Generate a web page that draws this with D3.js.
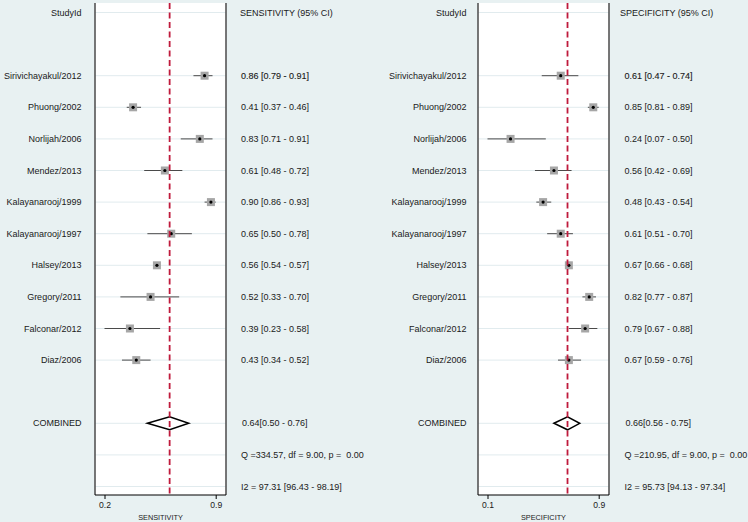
<!DOCTYPE html>
<html>
<head>
<meta charset="utf-8">
<script src="https://cdn.jsdelivr.net/npm/d3@7"></script>
<style>
  html, body { margin: 0; padding: 0; background: #e8f1f2; }
  svg { display: block; font-family: "Liberation Sans", Arial, sans-serif; }
</style>
</head>
<body>
<svg id="chart" width="748" height="522"></svg>
<script>
// ---- data ----
const studies = ["Sirivichayakul/2012","Phuong/2002","Norlijah/2006","Mendez/2013","Kalayanarooj/1999","Kalayanarooj/1997","Halsey/2013","Gregory/2011","Falconar/2012","Diaz/2006"];
const sens   = [0.86,0.41,0.83,0.61,0.90,0.65,0.56,0.52,0.39,0.43];
const sensLo = [0.79,0.37,0.71,0.48,0.86,0.50,0.54,0.33,0.23,0.34];
const sensHi = [0.91,0.46,0.91,0.72,0.93,0.78,0.57,0.70,0.58,0.52];
const spec   = [0.61,0.85,0.24,0.56,0.48,0.61,0.67,0.82,0.79,0.67];
const specLo = [0.47,0.81,0.07,0.42,0.43,0.51,0.66,0.77,0.67,0.59];
const specHi = [0.74,0.89,0.50,0.69,0.54,0.70,0.68,0.87,0.88,0.76];
const sensCombined = [0.64, 0.50, 0.76];
const specCombined = [0.66, 0.56, 0.75];
const sensStats = ["Q =334.57, df = 9.00, p =  0.00", "I2 = 97.31 [96.43 - 98.19]"];
const specStats = ["Q =210.95, df = 9.00, p =  0.00", "I2 = 95.73 [94.13 - 97.34]"];
const panelTitles = ["SENSITIVITY", "SPECIFICITY"];

const fmt2 = d3.format(".2f");
const svg = d3.select("#chart");
const textColor = "#1a1a1a";

// row scale (index -> y)
const y = d3.scaleLinear().domain([0, 15]).range([12.5, 486.5]);
const plotTop = 3, plotBottom = 495;

const panels = [
  { title: panelTitles[0], est: sens, lo: sensLo, hi: sensHi, comb: sensCombined, stats: sensStats,
    labelRight: 81.5, plotL: 95, plotR: 226, headX: 240, valX: 241 },
  { title: panelTitles[1], est: spec, lo: specLo, hi: specHi, comb: specCombined, stats: specStats,
    labelRight: 466.5, plotL: 478, plotR: 609, headX: 620, valX: 624.5 }
];

panels.forEach(p => {
  const g = svg.append("g");
  const x = d3.scaleLinear()
    .domain([d3.min(p.lo), d3.max(p.hi)])
    .range([p.plotL + 9.5, p.plotR - 10.3]);

  // plot region
  g.append("rect").attr("x", p.plotL).attr("y", plotTop)
    .attr("width", p.plotR - p.plotL).attr("height", plotBottom - plotTop)
    .attr("fill", "#ffffff");

  // gridlines
  const gridRows = [0, ...d3.range(2, 12), 13, 14, 15];
  g.selectAll("line.grid").data(gridRows).join("line")
    .attr("x1", p.plotL).attr("x2", p.plotR)
    .attr("y1", d => y(d)).attr("y2", d => y(d))
    .attr("stroke", "#e1ebee").attr("stroke-width", 1);

  // borders
  g.append("line").attr("x1", p.plotL).attr("x2", p.plotL).attr("y1", plotTop).attr("y2", plotBottom)
    .attr("stroke", "#555").attr("stroke-width", 1.6);
  g.append("line").attr("x1", p.plotR).attr("x2", p.plotR).attr("y1", plotTop).attr("y2", plotBottom)
    .attr("stroke", "#555").attr("stroke-width", 1.6);

  // CI lines
  const rows = studies.map((s, i) => ({ s, i, est: p.est[i], lo: p.lo[i], hi: p.hi[i], row: i + 2 }));
  g.selectAll("line.ci").data(rows).join("line")
    .attr("x1", d => x(d.lo)).attr("x2", d => x(d.hi))
    .attr("y1", d => y(d.row)).attr("y2", d => y(d.row))
    .attr("stroke", "#4a4a4a").attr("stroke-width", 1);

  // squares
  const sq = 8;
  g.selectAll("rect.sq").data(rows).join("rect")
    .attr("x", d => x(d.est) - sq / 2).attr("y", d => y(d.row) - sq / 2)
    .attr("width", sq).attr("height", sq)
    .attr("fill", "#a6a6a6");
  g.selectAll("circle.pt").data(rows).join("circle")
    .attr("cx", d => x(d.est)).attr("cy", d => y(d.row)).attr("r", 1.6)
    .attr("fill", "#000");

  // combined diamond
  const cy = y(13), h = 6.5;
  const [ce, cl, ch] = p.comb;
  g.append("path")
    .attr("d", `M${x(cl)},${cy}L${x(ce)},${cy - h}L${x(ch)},${cy}L${x(ce)},${cy + h}Z`)
    .attr("fill", "#fff").attr("stroke", "#000").attr("stroke-width", 1.5);

  // dashed line at combined estimate
  g.append("line").attr("x1", x(ce)).attr("x2", x(ce)).attr("y1", plotTop).attr("y2", plotBottom)
    .attr("stroke", "#bf1a3c").attr("stroke-width", 1.8).attr("stroke-dasharray", "6,3.5");

  // x axis
  const axis = d3.axisBottom(x).tickValues(x.domain()).tickFormat(d3.format(".1f")).tickSize(4).tickSizeOuter(0);
  const ax = g.append("g").attr("transform", `translate(0,${plotBottom})`).call(axis);
  ax.select(".domain").remove();
  ax.append("line").attr("x1", p.plotL).attr("x2", p.plotR).attr("stroke", "#000").attr("stroke-width", 1.2);
  ax.selectAll(".tick line").attr("stroke", "#000").attr("stroke-width", 1);
  ax.selectAll(".tick text").attr("fill", textColor).attr("font-size", 8.6)
    .attr("font-family", "Liberation Sans, Arial, sans-serif").attr("y", 7);
  g.append("text").attr("x", (p.plotL + p.plotR) / 2).attr("y", 520)
    .attr("text-anchor", "middle").attr("font-size", 7.3).attr("fill", textColor).text(p.title);

  // labels column
  g.append("text").attr("x", p.labelRight).attr("y", y(0)).attr("dy", "0.35em")
    .attr("text-anchor", "end").attr("font-size", 9).attr("fill", textColor).text("StudyId");
  g.selectAll("text.study").data(rows).join("text")
    .attr("x", p.labelRight).attr("y", d => y(d.row)).attr("dy", "0.35em")
    .attr("text-anchor", "end").attr("font-size", 9).attr("fill", textColor).text(d => d.s);
  g.append("text").attr("x", p.labelRight).attr("y", y(13)).attr("dy", "0.35em")
    .attr("text-anchor", "end").attr("font-size", 9).attr("fill", textColor).text("COMBINED");

  // values column
  g.append("text").attr("x", p.headX).attr("y", y(0)).attr("dy", "0.35em")
    .attr("font-size", 9).attr("fill", textColor).text(p.title + " (95% CI)");
  g.selectAll("text.val").data(rows).join("text")
    .attr("x", p.valX).attr("y", d => y(d.row)).attr("dy", "0.35em")
    .attr("font-size", 9).attr("fill", textColor)
    .attr("stroke", d => d.i === 0 ? textColor : "none").attr("stroke-width", 0.12)
    .text(d => `${fmt2(d.est)} [${fmt2(d.lo)} - ${fmt2(d.hi)}]`);
  g.append("text").attr("x", p.valX + 1).attr("y", y(13)).attr("dy", "0.35em")
    .attr("font-size", 9).attr("fill", textColor)
    .text(`${fmt2(ce)}[${fmt2(cl)} - ${fmt2(ch)}]`);
  g.selectAll("text.stat").data(p.stats).join("text")
    .attr("x", p.valX).attr("y", (d, i) => y(14 + i)).attr("dy", "0.35em")
    .attr("font-size", 9).attr("fill", textColor).style("white-space", "pre")
    .text(d => d);
});
</script>
</body>
</html>
